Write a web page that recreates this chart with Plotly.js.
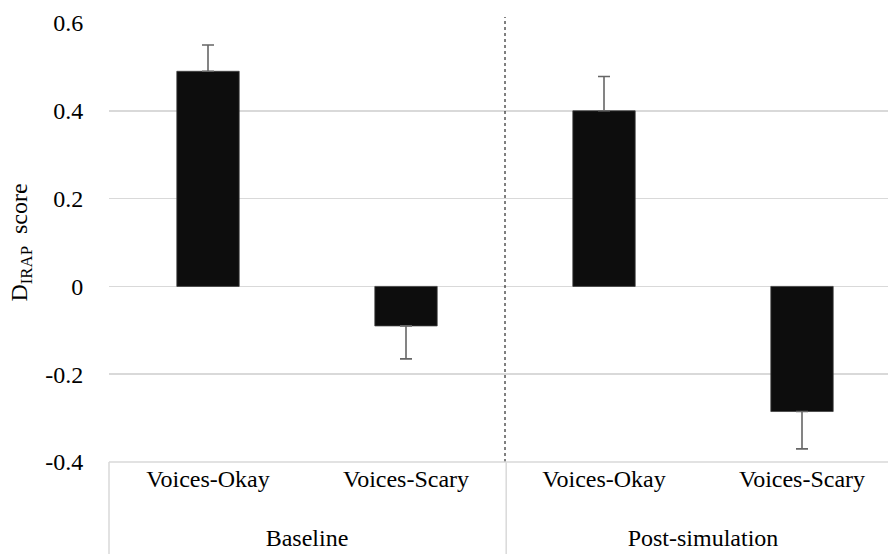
<!DOCTYPE html>
<html>
<head>
<meta charset="utf-8">
<script src="https://cdn.plot.ly/plotly-3.0.1.min.js"></script>
<style>
html,body{margin:0;padding:0;overflow:hidden;background:#fff;}
#chart{width:901px;height:554px;}
</style>
</head>
<body>
<div id="chart"></div>
<script>
const groups = ["Baseline", "Baseline", "Post-simulation", "Post-simulation"];
const conditions = ["Voices-Okay", "Voices-Scary", "Voices-Okay", "Voices-Scary"];
const scores = [0.49, -0.09, 0.40, -0.285];
const errPlus = [0.06, 0, 0.078, 0];
const errMinus = [0, 0.075, 0, 0.085];
const yTicks = [-0.4, -0.2, 0, 0.2, 0.4, 0.6];
const yTickLabels = ["-0.4", "-0.2", "0", "0.2", "0.4", "0.6"];

const fam = "Liberation Serif";
const grid = "#d9d9d9";
const clear = "rgba(0,0,0,0)";

const trace = {
  type: "bar",
  x: [groups.map(g => "<br>" + g), conditions],
  y: scores,
  width: 0.315,
  marker: {color: "#0d0d0d", line: {color: "#404040", width: 0.8}},
  error_y: {
    type: "data", symmetric: false,
    array: errPlus, arrayminus: errMinus,
    color: "#666666", thickness: 1.6, width: 6
  },
  hoverinfo: "none"
};

const layout = {
  width: 901, height: 554,
  margin: {l: 109, r: 0, t: 23, b: 92},
  font: {family: fam, size: 24, color: "#000"},
  showlegend: false,
  xaxis: {
    type: "multicategory",
    showdividers: false,
    showgrid: false, zeroline: false, showline: false,
    ticks: "outside", ticklen: 8, tickcolor: clear,
    tickfont: {family: fam, size: 24}
  },
  yaxis: {
    range: [-0.4, 0.6],
    tickvals: yTicks, ticktext: yTickLabels,
    showgrid: true, gridcolor: grid, gridwidth: 1.5,
    zeroline: false, showline: false,
    ticks: "outside", ticklen: 20, tickcolor: clear,
    tickfont: {family: fam, size: 24},
    title: {text: "D<sub>IRAP</sub>  score", font: {family: fam, size: 24}, standoff: 10}
  },
  shapes: [
    {type: "line", xref: "paper", yref: "paper", x0: 0.5, x1: 0.5, y0: 0, y1: 1.0137,
     line: {color: "#000", width: 1, dash: "dot"}},
    {type: "line", xref: "paper", yref: "paper", x0: 0, x1: 1, y0: 0, y1: 0,
     line: {color: grid, width: 1.5}},
    {type: "line", xref: "paper", yref: "paper", x0: 0, x1: 0, y0: 0, y1: -0.22,
     line: {color: grid, width: 1.5}},
    {type: "line", xref: "paper", yref: "paper", x0: 0.5015, x1: 0.5015, y0: 0, y1: -0.22,
     line: {color: grid, width: 1.5}}
  ]
};

function forceFont() {
  document.querySelectorAll("#chart text, #chart tspan").forEach(t => {
    t.style.setProperty("font-family", '"Liberation Serif", "Times New Roman", serif', "important");
  });
}

Plotly.newPlot("chart", [trace], layout, {staticPlot: true}).then(forceFont);
forceFont();
</script>
</body>
</html>
